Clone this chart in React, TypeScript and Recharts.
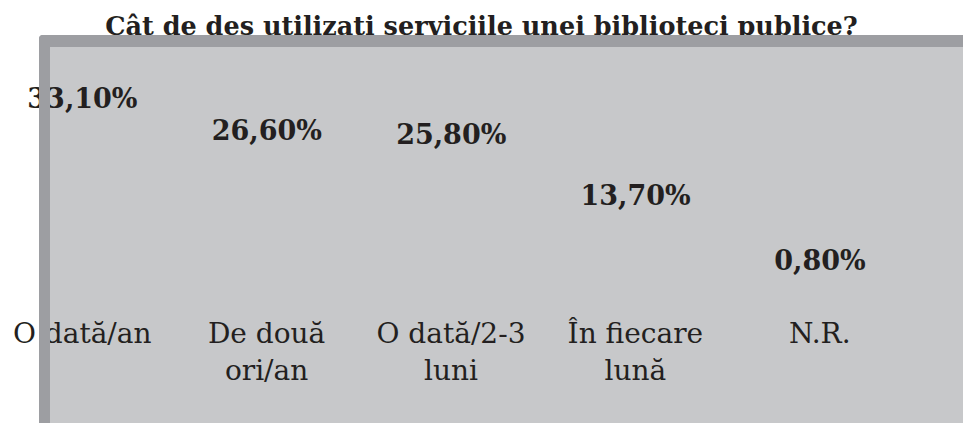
import React from "react";
import { Bar, XAxis, YAxis, BarChart, LabelList } from "recharts";

const title = "Cât de des utilizati serviciile unei biblioteci publice?";
const categories = ["O dată/an", "De două\nori/an", "O dată/2-3\nluni", "În fiecare\nlună", "N.R."];
const shares = [33.1, 26.6, 25.8, 13.7, 0.8];

const data = categories.map((name, i) => ({ name, value: shares[i] }));

const ink = "#231f20";
const panelFill = "#c7c8ca";
const panelEdge = "#9d9ea2";
const serif = "'DejaVu Serif', serif";

const fmt = (v: any) => Number(v).toFixed(2).replace(".", ",") + "%";

const CategoryTick = (props: any) => {
  const { x, y, payload } = props;
  const lines = String(payload.value).split("\n");
  return (
    <text x={x} y={y} textAnchor="middle" fill={ink} fontFamily={serif} fontSize={28}>
      {lines.map((line: string, i: number) => (
        <tspan key={i} x={x} dy={i === 0 ? 56 : 37}>
          {line}
        </tspan>
      ))}
    </text>
  );
};

const App = () => {
  return (
    <div style={{ position: "fixed", left: 0, top: 0, width: 963, height: 423, background: "#fff", overflow: "hidden" }}>
      <div
        style={{
          position: "absolute",
          left: 0,
          top: 8,
          width: 963,
          textAlign: "center",
          fontFamily: serif,
          fontWeight: "bold",
          fontSize: 25.5,
          lineHeight: "36px",
          color: ink,
        }}
      >
        {title}
      </div>
      <div
        style={{
          position: "absolute",
          left: 39,
          top: 35,
          right: 0,
          bottom: 0,
          background: panelFill,
          borderTop: `12px solid ${panelEdge}`,
          borderTopLeftRadius: 4,
          zIndex: 1,
        }}
      />
      <div style={{ position: "absolute", left: 0, top: 0, zIndex: 2 }}>
        <BarChart
          width={963}
          height={423}
          data={data}
          margin={{ top: 78, right: 51, left: -10, bottom: 114 }}
        >
          <XAxis
            dataKey="name"
            height={30}
            axisLine={false}
            tickLine={false}
            interval={0}
            tick={<CategoryTick />}
          />
          <YAxis hide domain={[0, 40]} />
          <Bar dataKey="value" fill="transparent" isAnimationActive={false}>
            <LabelList
              dataKey="value"
              position="top"
              offset={5}
              formatter={fmt}
              fill={ink}
              fontFamily={serif}
              fontWeight="bold"
              fontSize={27}
            />
          </Bar>
        </BarChart>
      </div>
      <div
        style={{
          position: "absolute",
          left: 39,
          top: 35,
          width: 11,
          bottom: 0,
          background: panelEdge,
          borderTopLeftRadius: 4,
          zIndex: 3,
        }}
      />
    </div>
  );
};

export default App;
